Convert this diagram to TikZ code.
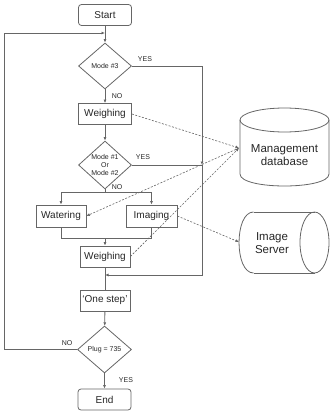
\documentclass[tikz,border=0pt]{standalone}
\usepackage{fontspec}
\setmainfont{Liberation Sans}
\usetikzlibrary{shapes.geometric,arrows.meta,calc}
\definecolor{ln}{HTML}{666666}
\definecolor{tx}{HTML}{262626}
\begin{document}
\begin{tikzpicture}[x=1pt,y=-1pt,
 box/.style={draw=ln,line width=0.8pt,minimum width=51pt,minimum height=21pt,inner sep=0pt,font=\fontsize{10}{11}\selectfont,text=tx},
 term/.style={box,rounded corners=3pt,minimum width=53pt},
 dia/.style={diamond,draw=ln,line width=0.8pt,inner sep=0pt,aspect=1,font=\fontsize{7}{7.6}\selectfont,text=tx,align=center},
 flow/.style={draw=ln,line width=0.8pt},
 arr/.style={flow,-{Latex[length=3.5pt,width=3pt]}},
 dsh/.style={draw=ln,line width=0.6pt,dash pattern=on 2pt off 1.5pt,-{Latex[length=3.5pt,width=3pt]}},
 lab/.style={font=\fontsize{7}{8}\selectfont,text=tx,inner sep=0pt},
 cyl/.style={draw=ln,line width=0.8pt},
 cyltext/.style={font=\fontsize{11.5}{13}\selectfont,text=tx,align=center,inner sep=0pt}]
\useasboundingbox (0,0) rectangle (333,414);

% main column
\node[term] (start) at (105,15) {Start};
\node[dia,minimum width=53pt,minimum height=46pt] (d1) at (105,66) {Mode \#3};
\node[box,minimum width=53pt] (w1) at (105,114) {Weighing};
\node[dia,minimum width=53pt,minimum height=48pt] (d2) at (105,165) {Mode \#1\\Or\\Mode \#2};
\node[box,minimum width=50pt,minimum height=22pt] (wat) at (61,216) {Watering};
\node[box,minimum width=51pt,minimum height=22pt] (img) at (151.5,216) {Imaging};
\node[box,minimum width=50pt] (w2) at (105,256.5) {Weighing};
\node[box,minimum width=50pt] (one) at (105,300.5) {‘One step’};
\node[dia,minimum width=54pt,minimum height=47pt] (d3) at (104.5,349.5) {Plug = 735};
\node[term] (end) at (104.5,399.5) {End};

% labels
\node[lab] (yes1) at (145,59) {YES};
\node[lab] (no1) at (117,96) {NO};
\node[lab] (yes2) at (143,157) {YES};
\node[lab] (no2) at (117,187.5) {NO};
\node[lab] (no3) at (67,343) {NO};
\node[lab] (yes3) at (126,380) {YES};

% helper coordinates
\coordinate (loopin) at (105,33);
\coordinate (lc) at (4,33);
\coordinate (jn) at (202,165);
\coordinate (mg) at (105,275);
\coordinate (split) at (105,192);
\coordinate (join) at (105,238);

% flow connectors
\draw[arr] (start) -- (d1);
\draw[arr] (d1) -- (w1);
\draw[arr] (w1) -- (d2);
\draw[flow] (d2.south) -- (split);
\draw[arr] (split) -| (wat);
\draw[arr] (split) -| (img);
\draw[flow] (wat.south) |- (join);
\draw[flow] (img.south) |- (join);
\draw[arr] (join) -- (w2);
\draw[flow] (w2) -- (one);
\draw[arr] (d1.east) -| (jn);
\draw[flow] (d2.east) -- (jn);
\draw[arr] (jn) |- (mg);
\draw[arr] (one) -- (d3);
\draw[arr] (d3) -- (end);
\draw[arr] (d3.west) -| (lc) -- (loopin);

% Management database cylinder
\draw[cyl] (284.5,120) ellipse [x radius=44.5pt, y radius=12pt];
\draw[cyl] (240,120) -- (240,174) .. controls (240,190) and (329,190) .. (329,174) -- (329,120);
\node[cyltext] (db) at (284.5,155) {Management\\database};

% Image Server cylinder
\draw[cyl] (253.5,212) -- (314.5,212);
\draw[cyl] (253.5,273) -- (314.5,273);
\draw[cyl] (253.5,212) .. controls (234.2,212) and (234.2,273) .. (253.5,273);
\draw[cyl] (314.5,242.5) ellipse [x radius=14.5pt, y radius=30.5pt];
\node[cyltext] (is) at (272,243) {Image\\Server};

\coordinate (dbin) at (239,148);
\coordinate (isin) at (239,242);

% dashed data links
\draw[dsh] (w1.east) -- (dbin);
\draw[dsh] (dbin) -- (wat.east);
\draw[dsh] (w2.east) -- (dbin);
\draw[dsh] (img.east) -- (isin);
\end{tikzpicture}
\end{document}
